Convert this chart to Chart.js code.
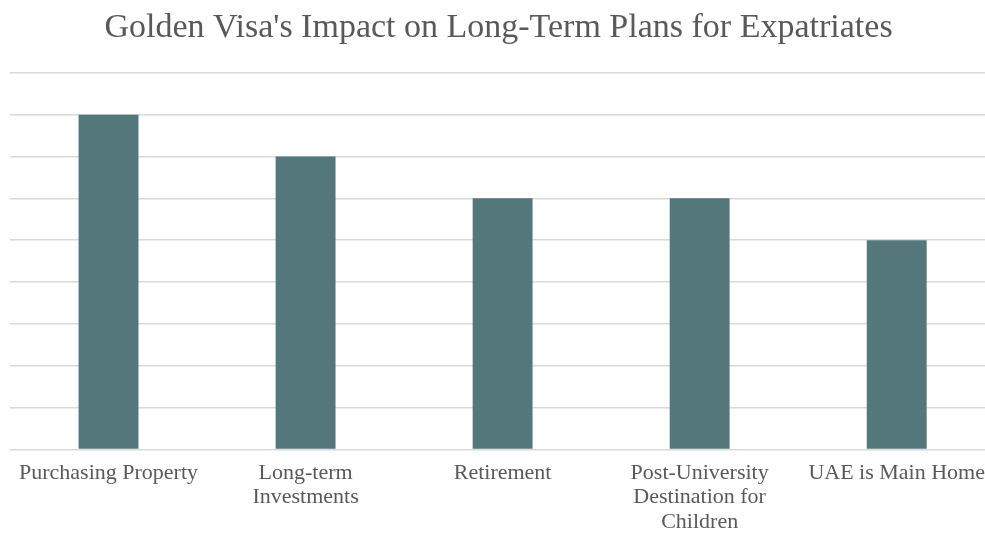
<!DOCTYPE html>
<html>
<head>
<meta charset="utf-8">
<title>Golden Visa Impact</title>
<script src="https://cdn.jsdelivr.net/npm/chart.js@4.4.1/dist/chart.umd.min.js"></script>
<style>
  html, body { margin: 0; padding: 0; background: #fff; overflow: hidden; }
  #wrap { width: 997px; height: 546px; position: relative; }
</style>
</head>
<body>
<div id="wrap"><canvas id="plans"></canvas></div>
<script>
// categories (multi-line labels as arrays)
const plans = [
  ['Purchasing Property'],
  ['Long-term', 'Investments'],
  ['Retirement'],
  ['Post-University', 'Destination for', 'Children'],
  ['UAE is Main Home']
]
// number of respondents per plan
const responses = [8, 7, 6, 6, 5]

const yMin = 0
const yMax = 9
const yStep = 1

const barColor = '#53777a'
const gridColor = '#d9d9d9'
const textColor = '#595959'
const serif = "'Liberation Serif', 'Times New Roman', serif"

let ctx = document.getElementById('plans').getContext('2d')

let chart = new Chart(ctx, {
  type: 'bar',
  data: {
    labels: plans,
    datasets: [
      {
        label: 'Respondents',
        data: responses,
        backgroundColor: barColor,
        borderWidth: 0,
        categoryPercentage: 1,
        barPercentage: 0.304,
      },
    ],
  },
  options: {
    responsive: true,
    maintainAspectRatio: false,
    animation: false,
    layout: { padding: { left: 0, right: 0, top: 0, bottom: 0 } },
    plugins: {
      legend: { display: false },
      tooltip: { enabled: false },
      title: {
        display: true,
        text: "Golden Visa's Impact on Long-Term Plans for Expatriates",
        color: textColor,
        font: { family: serif, size: 34, weight: 'normal', lineHeight: 1.2 },
        padding: { top: 8, bottom: 24 },
      },
    },
    scales: {
      x: {
        grid: { display: false, drawTicks: false },
        border: { display: false },
        ticks: {
          color: textColor,
          font: { family: serif, size: 22, lineHeight: 1.1 },
          padding: 12,
          maxRotation: 0,
          minRotation: 0,
          autoSkip: false,
        },
      },
      y: {
        min: yMin,
        max: yMax,
        grid: { color: gridColor, lineWidth: 1.5, drawTicks: false },
        border: { display: false },
        ticks: { display: false, stepSize: yStep },
        afterFit: (scale) => { scale.width = 10 },
      },
    },
  },
})
</script>
</body>
</html>
